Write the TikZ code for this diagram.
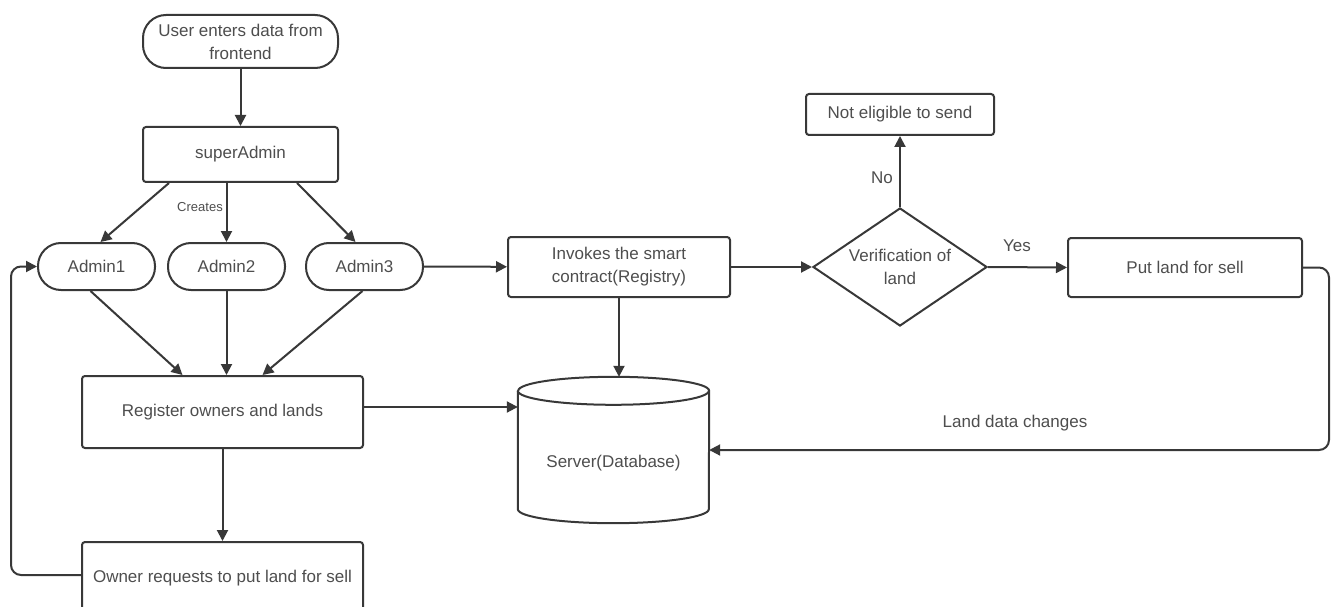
\documentclass[tikz,border=0pt]{standalone}
\usepackage{fontspec}
\setmainfont{Liberation Sans}
\usetikzlibrary{arrows.meta,shapes.geometric}
\definecolor{ln}{HTML}{383838}
\definecolor{tx}{HTML}{4E4E4E}
\begin{document}
\begin{tikzpicture}[x=1pt,y=-1pt,
  box/.style={draw=ln,line width=2pt,rounded corners=3pt,fill=white,text=tx,
    font=\fontsize{17}{23}\selectfont,align=center,inner sep=0pt},
  pill/.style={box,rounded corners=23pt},
  arr/.style={draw=ln,line width=2pt,-{Triangle[length=11pt,width=11pt]}},
  lbl/.style={text=tx,font=\fontsize{17}{20}\selectfont,inner sep=0pt},
  small/.style={text=tx,font=\fontsize{13}{15}\selectfont,inner sep=0pt}]
\useasboundingbox (0,0) rectangle (1331,607);
\clip (0,0) rectangle (1331,607);
\fill[white] (0,0) rectangle (1331,607);

% nodes
\node[pill,minimum width=195pt,minimum height=53pt] (start) at (240.5,41.5) {User enters data from\\frontend};
\node[box,minimum width=195pt,minimum height=55pt] (sa) at (240.5,154.5) {superAdmin};
\node[pill,minimum width=117pt,minimum height=47pt] (a1) at (96.5,266.5) {Admin1};
\node[pill,minimum width=117pt,minimum height=47pt] (a2) at (226.5,266.5) {Admin2};
\node[pill,minimum width=117pt,minimum height=47pt] (a3) at (364.5,266.5) {Admin3};
\node[box,minimum width=281pt,minimum height=72pt] (reg) at (222.5,412) {Register owners and lands};
\node[box,minimum width=281pt,minimum height=72pt] (own) at (222.5,578) {Owner requests to put land for sell};
\node[box,minimum width=222pt,minimum height=60pt] (inv) at (619,267) {Invokes the smart\\contract(Registry)};
\node[minimum width=191pt,minimum height=146pt,inner sep=0pt] (db) at (613.5,450) {};
\node[diamond,draw=ln,line width=2pt,fill=white,text=tx,font=\fontsize{17}{23}\selectfont,
  align=center,inner sep=0pt,shape aspect=1.47,minimum width=174pt,minimum height=118pt] (ver) at (900,267) {Verification of\\land};
\node[box,minimum width=188pt,minimum height=41pt] (ne) at (900,114.5) {Not eligible to send};
\node[box,minimum width=234pt,minimum height=59pt] (put) at (1185,267.5) {Put land for sell};

% cylinder drawn on db node
\draw[draw=ln,line width=2pt,fill=white,line join=round]
  ([yshift=-14pt]db.north west) -- ([yshift=14pt]db.south west)
  arc[start angle=180,end angle=360,x radius=95.5pt,y radius=14pt]
  -- ([yshift=-14pt]db.north east)
  arc[start angle=0,end angle=180,x radius=95.5pt,y radius=14pt] -- cycle;
\draw[draw=ln,line width=2pt]
  ([yshift=-14pt]db.north west) arc[start angle=180,end angle=360,x radius=95.5pt,y radius=14pt];
\node[lbl] at ([yshift=-13pt]db.center) {Server(Database)};

% connectors
\draw[arr] (start) -- (sa);
\draw[arr] ([xshift=27pt]sa.south west) -- ([xshift=4pt]a1.north);
\draw[arr] (sa.south -| a2.north) -- (a2.north);
\draw[arr] ([xshift=-42pt]sa.south east) -- ([xshift=-9pt]a3.north);
\node[small] at (200,207) {Creates};

\draw[arr] ([xshift=-6pt]a1.south) -- ([xshift=-40pt]reg.north);
\draw[arr] (a2.south) -- (a2.south |- reg.north);
\draw[arr] ([xshift=-2pt]a3.south) -- ([xshift=40pt]reg.north);

\draw[arr] (reg) -- (own);
\draw[arr,rounded corners=10pt] ([yshift=3pt]own.west) -- ++(-70,0) |- (a1.west);

\draw[arr] (a3) -- (inv);
\coordinate (r1) at ([yshift=5pt]reg.east);
\draw[arr] (r1) -- (r1 -| db.west);
\draw[arr] (inv.south) -- (inv.south |- db.north);
\draw[arr] (inv) -- (ver);
\draw[arr] (ver.north) -- (ne.south);
\node[lbl] at (882,178) {No};
\draw[arr] (ver.east) -- (put.west);
\node[lbl] at (1017,246) {Yes};
\draw[arr,rounded corners=10pt] (put.east) -- ++(26,0) |- (db.east);
\node[lbl] at (1015,423) {Land data changes};
\end{tikzpicture}
\end{document}
